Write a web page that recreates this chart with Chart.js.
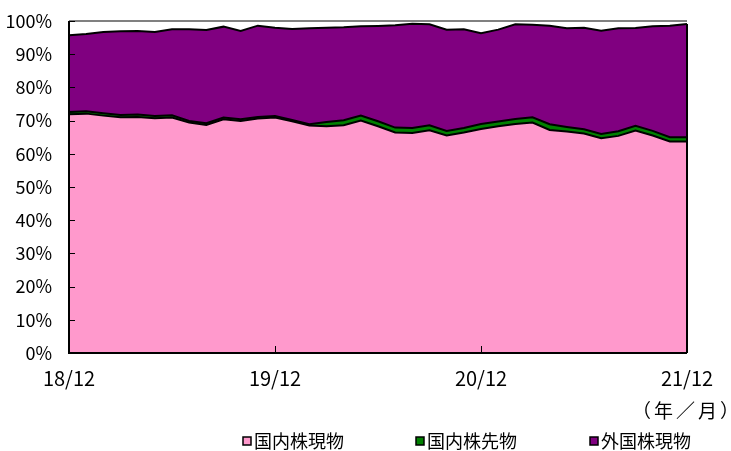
<!DOCTYPE html>
<html>
<head>
<meta charset="utf-8">
<script src="https://cdn.jsdelivr.net/npm/chart.js@4.4.1/dist/chart.umd.min.js"></script>
<style>
html,body{margin:0;padding:0;background:#fff;}
#wrap{width:731px;height:451px;position:relative;}
</style>
</head>
<body>
<div id="wrap"><canvas id="c" width="731" height="451"></canvas></div>
<script>
const months = ['18/12','19/1','19/2','19/3','19/4','19/5','19/6','19/7','19/8','19/9','19/10','19/11',
  '19/12','20/1','20/2','20/3','20/4','20/5','20/6','20/7','20/8','20/9','20/10','20/11',
  '20/12','21/1','21/2','21/3','21/4','21/5','21/6','21/7','21/8','21/9','21/10','21/11','21/12'];
const seriesNames = ['国内株現物','国内株先物','外国株現物'];
const domesticStock = [71.9,72.1,71.5,71.0,71.1,70.7,70.9,69.4,68.7,70.4,69.9,70.6,70.9,69.8,68.5,68.3,68.6,70.0,68.3,66.4,66.3,67.1,65.5,66.4,67.5,68.3,69.0,69.4,67.2,66.7,66.1,64.7,65.4,67.0,65.5,63.7,63.7];
const domesticFutures = [0.7,0.7,0.7,0.7,0.7,0.7,0.7,0.5,0.5,0.5,0.5,0.5,0.5,0.4,0.4,1.3,1.5,1.5,1.5,1.5,1.5,1.5,1.4,1.4,1.5,1.4,1.5,1.6,1.7,1.4,1.3,1.3,1.4,1.4,1.4,1.3,1.3];
const foreignStock = [23.1,23.3,24.5,25.2,25.2,25.3,25.9,27.6,28.1,27.4,26.6,27.5,26.6,27.4,28.9,28.4,28.0,26.9,28.7,30.8,31.4,30.4,30.5,29.7,27.3,27.7,28.5,27.9,29.7,29.7,30.6,31.1,31.0,29.5,31.5,33.6,34.1];
const yTicks = [0,10,20,30,40,50,60,70,80,90,100];
const xTickLabels = ['18/12','19/12','20/12','21/12'];
const unitLabel = '（年／月）';

const colors = ['#FF99CC','#008000','#800080'];
const FONT = '"Noto Sans CJK JP", "Noto Sans", sans-serif';

const decor = {
  id: 'decor',
  afterDatasetsDraw(chart){
    const ctx = chart.ctx, a = chart.chartArea;
    const x = chart.scales.x, y = chart.scales.y;
    ctx.save();
    ctx.strokeStyle = '#808080'; ctx.lineWidth = 2;
    ctx.beginPath(); ctx.moveTo(a.left, a.top); ctx.lineTo(a.right, a.top); ctx.stroke();
    const last = months.length - 1;
    const topVal = domesticStock[last] + domesticFutures[last] + foreignStock[last];
    ctx.strokeStyle = '#000'; ctx.lineWidth = 2;
    ctx.beginPath(); ctx.moveTo(x.getPixelForValue(last), y.getPixelForValue(topVal)); ctx.lineTo(x.getPixelForValue(last), a.bottom); ctx.stroke();
    ctx.lineWidth = 1;
    yTicks.forEach(v => {
      const py = Math.round(y.getPixelForValue(v)) + 0.5;
      ctx.beginPath(); ctx.moveTo(a.left, py); ctx.lineTo(a.left + 6, py); ctx.stroke();
    });
    months.forEach((m, i) => {
      if (xTickLabels.includes(m)) {
        const px = Math.round(x.getPixelForValue(i)) + 0.5;
        ctx.beginPath(); ctx.moveTo(px, a.bottom); ctx.lineTo(px, a.bottom - 7); ctx.stroke();
      }
    });
    ctx.lineWidth = 2;
    ctx.beginPath(); ctx.moveTo(a.left, a.top); ctx.lineTo(a.left, a.bottom); ctx.lineTo(a.right, a.bottom); ctx.stroke();
    ctx.restore();
  },
  afterDraw(chart){
    const ctx = chart.ctx;
    ctx.save();
    ctx.fillStyle = '#000';
    ctx.textBaseline = 'middle';
    ctx.textAlign = 'left';
    ctx.font = '19px ' + FONT;
    if ('letterSpacing' in ctx) ctx.letterSpacing = '3px';
    ctx.fillText(unitLabel, 632, 411);
    if ('letterSpacing' in ctx) ctx.letterSpacing = '0px';
    ctx.font = '18px ' + FONT;
    const xs = [243, 416, 590];
    chart.data.datasets.forEach((ds, i) => {
      ctx.fillStyle = ds.backgroundColor;
      ctx.fillRect(xs[i], 437, 8, 8);
      ctx.strokeStyle = '#000'; ctx.lineWidth = 1.5;
      ctx.strokeRect(xs[i], 437, 8, 8);
      ctx.fillStyle = '#000';
      ctx.fillText(ds.label, xs[i] + 11, 441);
    });
    ctx.restore();
  }
};

new Chart(document.getElementById('c'), {
  type: 'line',
  data: {
    labels: months,
    datasets: [
      {label: seriesNames[0], data: domesticStock, backgroundColor: colors[0], borderColor: '#000', borderWidth: 2, fill: 'origin', pointRadius: 0, tension: 0},
      {label: seriesNames[1], data: domesticFutures, backgroundColor: colors[1], borderColor: '#000', borderWidth: 2, fill: '-1', pointRadius: 0, tension: 0},
      {label: seriesNames[2], data: foreignStock, backgroundColor: colors[2], borderColor: '#000', borderWidth: 2, fill: '-1', pointRadius: 0, tension: 0}
    ]
  },
  options: {
    responsive: false,
    animation: false,
    events: [],
    layout: {padding: {left: 0, top: 21, right: 44, bottom: 0}},
    plugins: {legend: {display: false}, tooltip: {enabled: false}},
    scales: {
      x: {
        type: 'category',
        offset: false,
        grid: {display: false, drawTicks: false},
        border: {display: false},
        afterFit(s){ s.height = 98; s.paddingLeft = 0; s.paddingRight = 0; },
        ticks: {
          autoSkip: false, maxRotation: 0, padding: 13, color: '#000',
          font: {family: FONT, size: 20},
          callback(v, i){ const l = months[i]; return xTickLabels.includes(l) ? l : ''; }
        }
      },
      y: {
        stacked: true, min: 0, max: 100,
        grid: {display: false, drawTicks: false},
        border: {display: false},
        afterFit(s){ s.width = 69; s.paddingTop = 0; s.paddingBottom = 0; },
        afterBuildTicks(s){ s.ticks = yTicks.map(v => ({value: v})); },
        ticks: {
          padding: 17, color: '#000',
          font: {family: FONT, size: 18},
          callback(v){ return v + '%'; }
        }
      }
    }
  },
  plugins: [decor]
});
</script>
</body>
</html>
